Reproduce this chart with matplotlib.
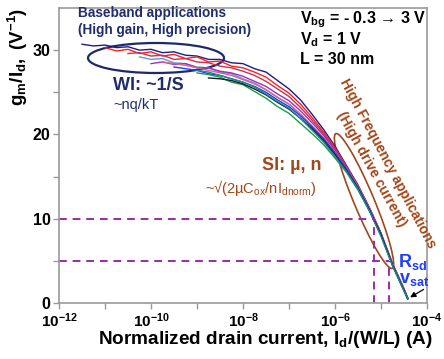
import numpy as np
import matplotlib.pyplot as plt
from matplotlib.patches import Ellipse
from matplotlib.ticker import NullFormatter
from matplotlib.transforms import Affine2D

plt.rcParams['font.family'] = ['Liberation Sans', 'DejaVu Sans']
plt.rcParams['mathtext.fontset'] = 'custom'
plt.rcParams['mathtext.rm'] = 'Liberation Sans'
plt.rcParams['mathtext.it'] = 'Liberation Sans:italic'
plt.rcParams['mathtext.bf'] = 'Liberation Sans:bold'

N = np.nan

# log10 of normalized drain current (A)
log_id = [-11.5, -11.25, -11.0, -10.75, -10.5, -10.25, -10.0, -9.75, -9.5, -9.25,
          -9.0, -8.75, -8.5, -8.25, -8.0, -7.75, -7.5, -7.25, -7.0, -6.75,
          -6.5, -6.25, -6.0, -5.75, -5.5, -5.25, -5.0, -4.75, -4.5, -4.42]

# gm/Id (1/V), one list per measured device
navy_y = [30.7, 30.5, 30.6, 30.3, 30.4, 30.0, 30.1, 29.7, 29.8, 29.4,
          29.3, 28.9, 28.9, 28.5, 28.4, 27.8, 27.4, 26.4, 25.4, 24.1,
          22.4, 20.6, 18.6, 16.3, 14.0, 11.3, 8.3, 4.7, 1.7, 0.6]
red_y = [N, N, 30.3, 29.9, 30.1, 29.6, 29.8, 29.3, 29.5, 29.0,
         29.2, 28.6, 28.7, 28.1, 27.9, 27.4, 26.8, 25.8, 24.9, 23.6,
         22.0, 20.3, 18.4, 16.2, 13.9, 11.2, 8.2, 4.6, 1.6, 0.6]
crimson_y = [N, N, N, N, 29.6, 29.7, 29.3, 29.4, 28.9, 29.0,
             28.6, 28.5, 28.1, 27.9, 27.5, 27.0, 26.3, 25.4, 24.5, 23.2,
             21.7, 20.1, 18.2, 16.1, 13.8, 11.2, 8.2, 4.6, 1.6, 0.6]
lightblue_y = [N, N, N, N, N, 29.2, 28.9, 29.0, 28.5, 28.4,
               28.0, 27.9, 27.4, 27.2, 26.6, 26.1, 25.3, 24.4, 23.6, 22.4,
               21.0, 19.6, 17.8, 15.9, 13.7, 11.1, 8.1, 4.6, 1.6, 0.6]
purple_y = [N, N, N, N, N, N, 28.4, 28.6, 28.3, 28.4,
            27.9, 27.9, 27.5, 27.3, 26.9, 26.3, 25.7, 24.8, 24.0, 22.8,
            21.4, 19.9, 18.1, 16.0, 13.8, 11.2, 8.2, 4.6, 1.6, 0.6]
pink_y = [N, N, N, N, N, N, N, 28.6, 28.4, 28.2,
          27.9, 27.6, 27.3, 27.0, 26.5, 26.0, 25.3, 24.4, 23.6, 22.4,
          21.0, 19.6, 17.9, 15.9, 13.8, 11.2, 8.2, 4.6, 1.6, 0.6]
blue_y = [N, N, N, N, N, N, N, N, 28.0, 27.8,
          27.6, 27.2, 27.0, 26.6, 26.2, 25.7, 25.0, 24.1, 23.3, 22.2,
          20.9, 19.5, 17.8, 15.9, 13.7, 11.1, 8.1, 4.5, 1.5, 0.5]
teal_y = [N, N, N, N, N, N, N, N, N, N,
          27.6, 27.4, 27.0, 26.6, 26.2, 25.6, 24.8, 23.9, 23.1, 21.9,
          20.5, 19.1, 17.4, 15.6, 13.5, 10.9, 7.9, 4.4, 1.4, 0.5]
green_y = [N, N, N, N, N, N, N, N, N, N,
           27.3, 27.1, 26.8, 26.2, 25.9, 25.1, 24.3, 23.3, 22.5, 21.3,
           20.1, 18.8, 17.2, 15.5, 13.4, 10.9, 8.0, 4.5, 1.5, 0.5]
black_y = [N, N, N, N, N, N, N, N, N, N,
           N, 26.7, 26.6, 26.4, 26.0, 25.4, 24.7, 23.8, 23.0, 21.9,
           20.7, 19.3, 17.6, 15.7, 13.6, 11.0, 8.1, 4.5, 1.5, 0.5]

# guide lines: gm/Id level and the current where the curves reach it
dash_levels = [10, 5]
dash_currents = [7.1e-6, 1.48e-5]

x_ticks = [1e-12, 1e-10, 1e-8, 1e-6, 1e-4]
x_labels = [r'$\mathbf{10^{-12}}$', r'$\mathbf{10^{-10}}$', r'$\mathbf{10^{-8}}$',
            r'$\mathbf{10^{-6}}$', r'$\mathbf{10^{-4}}$']
y_ticks = [0, 10, 20, 30]

W, H = 444, 359
fig = plt.figure(figsize=(W / 100, H / 100), dpi=100)
ax = fig.add_axes([59 / W, 1 - 303 / H, (427 - 59) / W, (303 - 8) / H])
# reference pixel coords (origin top-left) for the annotations
ref = Affine2D().scale(1 / W, -1 / H).translate(0, 1) + fig.transFigure

x = 10 ** np.array(log_id)
series = [
    (navy_y, '#1c1c8a'), (red_y, '#ff1f1f'), (crimson_y, '#d0304a'),
    (lightblue_y, '#5b9bd5'), (purple_y, '#9b30c8'), (pink_y, '#e06080'),
    (blue_y, '#1e40ff'), (green_y, '#1a9a4a'), (black_y, '#1a1a1a'),
    (teal_y, '#1b8a9a'),
]
for y, c in series:
    ax.plot(x, y, color=c, linewidth=1.0)

purple = '#9a2aa8'
for level, cur in zip(dash_levels, dash_currents):
    ax.plot([1e-12, cur], [level, level], '--', color=purple, linewidth=1.4, dashes=(4, 3))
    ax.plot([cur, cur], [0, level], '--', color=purple, linewidth=1.4, dashes=(4, 3))

ax.set_xscale('log')
ax.set_xlim(1e-12, 1e-4)
ax.set_ylim(0, 35)
ax.set_xticks(x_ticks)
ax.set_xticklabels(x_labels)
ax.set_xticks([1e-11, 1e-9, 1e-7, 1e-5], minor=True)
ax.xaxis.set_minor_formatter(NullFormatter())
ax.set_yticks(y_ticks)
ax.set_yticks([5, 15, 25], minor=True)
ax.tick_params(which='both', direction='out', color='#999999', length=4, width=1)
ax.tick_params(axis='x', labelsize=11, pad=2)
ax.tick_params(axis='y', labelsize=11.5, pad=2)
for t in ax.get_yticklabels():
    t.set_fontweight('bold')
for s in ax.spines.values():
    s.set_color('#999999')
    s.set_linewidth(1.2)

navy = '#1f2d6e'
brown = '#a3461a'

ax.add_patch(Ellipse((156, 58), 136, 30, angle=0, transform=ref, fill=False,
                     edgecolor='#1c2a6b', linewidth=1.6, clip_on=False))
ax.add_patch(Ellipse((364, 201), 146, 20, angle=67.3, transform=ref, fill=False,
                     edgecolor='#a0461e', linewidth=1.2, clip_on=False))

fig.text(78, 13, 'Baseband applications', transform=ref, color=navy,
         fontsize=9.8, fontweight='bold', va='center')
fig.text(78, 30, '(High gain, High precision)', transform=ref, color=navy,
         fontsize=9.8, fontweight='bold', va='center')
fig.text(113, 85, 'WI: ~1/S', transform=ref, color=navy,
         fontsize=13, fontweight='bold', va='center')
fig.text(113, 105, '~nq/kT', transform=ref, color=navy, fontsize=10.5, va='center')

fig.text(300, 20, r'V$_{\mathbf{bg}}$ = - 0.3 → 3 V', transform=ref,
         fontsize=11.5, fontweight='bold', va='center')
fig.text(300, 40, r'V$_{\mathbf{d}}$ = 1 V', transform=ref,
         fontsize=11.5, fontweight='bold', va='center')
fig.text(300, 60, 'L = 30 nm', transform=ref,
         fontsize=11.5, fontweight='bold', va='center')

fig.text(343, 80, 'High Frequency applications', transform=ref, color=brown,
         fontsize=10, fontweight='bold', rotation=-62, rotation_mode='anchor',
         ha='left', va='center')
fig.text(340, 113, '(High drive current)', transform=ref, color=brown,
         fontsize=10, fontweight='bold', rotation=-61, rotation_mode='anchor',
         ha='left', va='center')
fig.text(262, 165, 'SI: µ, n', transform=ref, color=brown,
         fontsize=13, fontweight='bold', va='center')
fig.text(205, 188, r'~√(2µC$_{\rm ox}$/nI$_{\rm dnorm}$)', transform=ref,
         color=brown, fontsize=10.5, va='center')

blue = '#1f3cff'
fig.text(398, 262, r'R$_{\mathbf{sd}}$', transform=ref, color=blue,
         fontsize=13, fontweight='bold', va='center')
fig.text(399, 280, r'v$_{\mathbf{sat}}$', transform=ref, color=blue,
         fontsize=13, fontweight='bold', va='center')
ax.annotate('', xy=(x[-1], teal_y[-1]), xytext=(426, 288), textcoords=ref,
            arrowprops=dict(arrowstyle='-|>', color='black', lw=0.9,
                            mutation_scale=8))

fig.text(18, 57, r'$\mathbf{g_m/I_d,\ (V^{-1})}$', transform=ref,
         fontsize=13.5, rotation=90, ha='center', va='center')
fig.text(265, 340, r'Normalized drain current, I$_{\mathbf{d}}$/(W/L) (A)',
         transform=ref, fontsize=13.7, fontweight='bold', ha='center', va='center')

fig.savefig('out.png', dpi=100)
